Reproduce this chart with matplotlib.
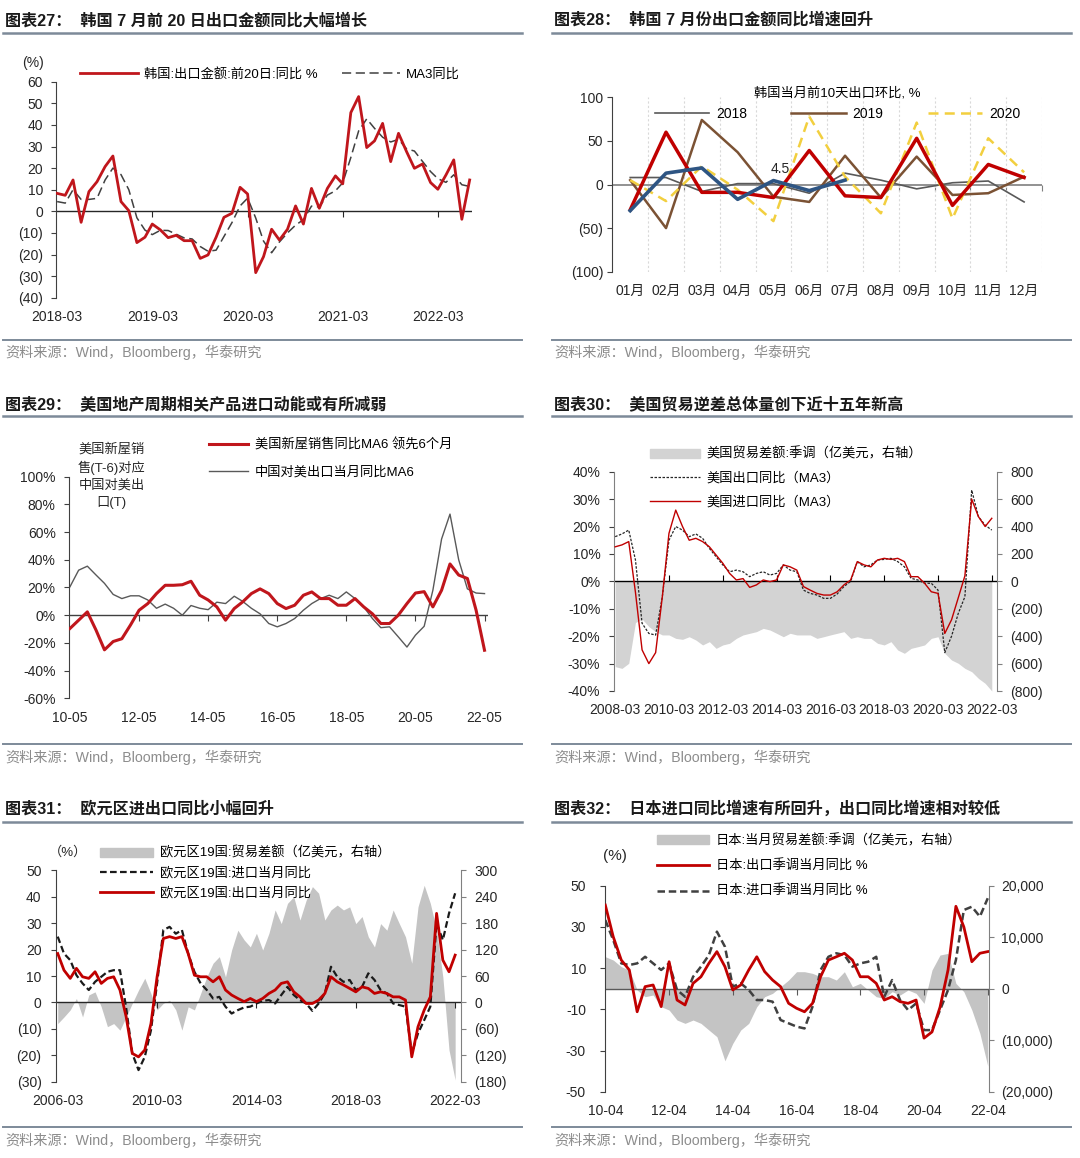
import numpy as np
import pandas as pd
import matplotlib
matplotlib.use("Agg")
import matplotlib.pyplot as plt
import matplotlib.dates as mdates
from matplotlib.lines import Line2D
from matplotlib.patches import Patch
from matplotlib.ticker import FuncFormatter

plt.rcParams['font.family'] = ['Liberation Sans', 'Noto Sans CJK SC']
plt.rcParams['axes.unicode_minus'] = False

# ---------------- data ----------------
# 图表27 韩国出口（月度 2018-03 .. 2022-07）
kr_dates = pd.date_range('2018-03-01', periods=53, freq='MS')
kr_exp = [8.3, 7.4, 14.5, -5.1, 9.1, 13.7, 20.7, 25.6, 4.5, 0.3,
          -14.5, -12.0, -5.9, -8.6, -12.2, -11.1, -13.6, -13.6, -21.8, -20.2, -12.0, -2.8,
          -0.9, 11.1, 8.0, -28.4, -21.0, -8.3, -13.3, -8.3, 2.5, -5.9, 10.6, 1.4,
          10.6, 16.4, 12.7, 45.7, 53.1, 29.5, 32.6, 40.7, 23.0, 36.1, 27.6, 19.9,
          21.9, 13.3, 10.2, 16.8, 23.8, -3.7, 14.5]
kr_ma3 = [4.5, 3.8, 10.0, 5.5, 5.5, 6.0, 14.5, 20.0, 17.0, 10.0,
          -3.0, -8.7, -10.8, -8.8, -8.9, -10.6, -12.3, -12.8, -16.3, -18.5, -18.0, -11.7,
          -5.2, 2.5, 6.1, -3.1, -13.8, -19.2, -14.2, -10.0, -6.4, -3.9, 2.4, 2.0,
          7.5, 9.5, 13.2, 24.9, 37.2, 42.8, 38.4, 34.3, 32.1, 33.3, 28.9, 27.9,
          23.1, 18.4, 15.1, 13.4, 16.9, 12.3, 11.5]

# 图表28 韩国当月前10天出口环比
months_cn = ['01月', '02月', '03月', '04月', '05月', '06月',
             '07月', '08月', '09月', '10月', '11月', '12月']
kr10_2018 = [8, 8, -8, 1, 1, -10, 13, 5, -5, 2, 4, -20]
kr10_2019 = [5, -50, 74, 37, -14, -20, 33, -15, 32, -12, -10, 9]
kr10_2020 = [5, -19, 21, -6, -42, 78, 9, -33, 71, -39, 53, 14]
kr10_2021 = [-29, 60, -9, -9, -15, 39, -13, -15, 53, -24, 23, 8]
kr10_2022 = [-30, 13, 19, -17, 4.5, -7, 5]

# 图表29 美国新屋销售 vs 中国对美出口（季度采样 2010-05 .. 2022-05）
us29_dates = pd.date_range('2010-05-01', periods=49, freq='3MS')
us_house = [-9.6, -3.6, 2.4, -10.8, -25.0, -19.0, -17.0, -7.0, 3.6, 8.4,
            15.6, 21.6, 21.6, 22.0, 24.5, 14.4, 11.0, 6.0, -3.6, 4.8,
            9.6, 15.6, 19.0, 15.6, 8.4, 4.8, 7.2, 14.4, 16.8, 12.0,
            12.0, 7.2, 7.2, 12.0, 6.0, 1.0, -6.0, -6.0, 0.0, 8.4,
            16.0, 17.0, 6.0, 18.0, 37.0, 29.0, 26.5, 3.6, -25.3]
cn_to_us = [20.5, 32.5, 35.4, 29.0, 23.0, 15.0, 12.0, 14.0, 14.0, 11.0,
            5.0, 8.0, 5.0, 0.0, 7.0, 5.0, 4.0, 9.4, 8.4, 13.7,
            10.0, 5.0, 1.0, -6.0, -8.4, -6.0, -2.4, 3.6, 8.4, 12.0,
            14.4, 12.0, 16.8, 12.0, 6.0, -2.4, -9.0, -8.4, -15.6, -23.0,
            -14.4, -8.0, 18.0, 55.0, 73.0, 40.0, 19.0, 16.0, 15.6]

# 图表30 美国贸易（季度采样 2008-03 .. 2022-03）
us30_dates = pd.date_range('2008-03-01', periods=57, freq='3MS')
us_balance = [-622, -635, -598, -300, -275, -330, -367, -391, -391, -416,
              -423, -404, -428, -464, -440, -489, -464, -452, -416, -391,
              -379, -367, -343, -355, -379, -404, -379, -391, -391, -391,
              -416, -404, -391, -379, -367, -416, -404, -416, -416, -452,
              -464, -440, -501, -525, -489, -477, -464, -416, -404, -525,
              -574, -598, -635, -659, -708, -744, -800]
us_export = [16.3, 17.3, 18.7, 7.8, -15.3, -19.0, -19.6, -5.6, 15.0, 20.0,
             18.7, 16.3, 17.3, 15.7, 12.0, 9.0, 6.0, 3.5, 4.1, 3.5,
             1.7, 2.9, 3.5, 2.3, 2.9, 6.0, 4.1, 3.5, -3.2, -4.4,
             -5.0, -6.2, -6.2, -4.6, -1.9, 0.0, 7.2, 5.3, 6.0, 7.8,
             8.0, 8.4, 7.2, 5.3, 1.1, 0.5, -0.7, -0.7, -3.2, -26.0,
             -20.0, -11.7, -5.6, 33.3, 23.6, 20.5, 18.7]
us_import = [12.6, 13.3, 14.5, -4.0, -25.0, -30.0, -26.0, -5.6, 17.5, 26.0,
             20.0, 15.0, 15.7, 14.5, 12.6, 9.6, 6.6, 2.9, 0.5, 1.0,
             -2.2, -1.3, 0.5, -0.1, 0.5, 6.0, 5.3, 4.1, -1.9, -3.2,
             -4.4, -5.0, -5.0, -3.8, -1.3, 0.5, 7.2, 6.0, 5.3, 7.8,
             8.4, 8.0, 8.4, 7.2, 1.7, 1.7, -0.7, -3.8, -4.4, -19.0,
             -14.0, -6.0, 2.0, 30.0, 23.6, 20.0, 23.0]

# 图表31 欧元区（季度采样 2006-03 .. 2022-03）
ez_dates = pd.date_range('2006-03-01', periods=65, freq='3MS')
ez_balance = [-48, -33, -17, 9, -33, 17, 24, -10, -55, -48,
              -63, -33, -2, 28, 55, 20, -17, -2, 5, -17,
              -63, -10, -17, 20, 58, 89, 104, 58, 119, 164,
              142, 126, 157, 119, 157, 210, 179, 225, 240, 187,
              232, 263, 248, 187, 210, 221, 210, 217, 179, 195,
              149, 126, 179, 164, 210, 179, 149, 89, 217, 266,
              225, 164, 58, -108, -176]
ez_import = [24.9, 18.5, 16.0, 10.3, 7.2, 4.7, 7.8, 9.7, 11.6, 12.2,
             12.2, -2.0, -19.3, -25.6, -20.6, -10.5, 7.2, 27.4, 28.6, 26.0,
             27.4, 18.5, 11.6, 7.2, 4.7, 1.5, 2.1, -1.6, -4.2, -2.9,
             -1.9, -1.6, -0.4, 0.6, 0.9, -0.4, 2.8, 5.9, 2.8, 0.9,
             -0.4, -3.2, -0.4, 3.4, 13.5, 9.7, 7.8, 8.5, 4.7, 5.9,
             11.0, 8.5, 4.7, 3.4, -0.4, -1.0, -1.6, -19.3, -11.7, -6.7,
             -1.6, 30.0, 23.6, 33.7, 41.3]
ez_export = [18.5, 12.2, 9.1, 12.9, 9.7, 9.1, 11.6, 7.2, 9.1, 9.7,
             4.7, -5.4, -19.3, -20.6, -18.0, -8.0, 9.7, 24.2, 24.9, 24.2,
             24.9, 18.5, 10.3, 9.7, 9.7, 7.8, 9.7, 4.7, 2.8, 1.5,
             0.3, 1.5, 0.3, 1.5, 3.4, 4.7, 7.2, 7.8, 4.0, 2.1,
             -0.4, -0.4, 0.9, 3.4, 9.7, 7.8, 6.6, 5.3, 4.0, 5.9,
             5.3, 3.4, 4.0, 3.4, 2.1, 2.1, 0.9, -20.6, -9.2, -2.9,
             2.1, 33.7, 16.0, 11.6, 17.9]

# 图表32 日本（季度采样 2010-04 .. 2022-04）
jp_dates = pd.date_range('2010-04-01', periods=49, freq='3MS')
jp_balance = [6214, 5566, 4272, 3625, -259, -1553, -1230, -3495, -4142, -6084,
              -6731, -6084, -6731, -8026, -9320, -14000, -10615, -8026, -6731, -3495,
              -1553, -906, 388, 1683, 3301, 3301, 2977, 2330, 2330, 1683,
              3301, 388, 1036, -259, -1553, -1877, -583, -1230, -259, -906,
              -2848, 3625, 6537, 6861, 1036, -583, -4142, -8673, -15000]
jp_export = [40.6, 25.2, 13.9, 9.1, -11.2, 1.0, 1.8, -8.7, 13.1, -5.5,
             -7.9, 2.6, 5.8, 12.3, 18.0, 10.7, -0.6, 1.8, 9.1, 15.5,
             8.3, 4.2, 1.0, -7.1, -9.5, -11.2, -7.1, 5.8, 13.9, 15.5,
             17.2, 13.9, 5.8, 5.8, 2.6, -5.5, -3.9, -6.3, -7.1, -5.5,
             -24.0, -21.0, -9.0, 9.1, 40.0, 30.0, 13.1, 17.2, 18.0]
jp_import = [33.3, 23.6, 12.3, 11.5, 12.3, 15.5, 12.3, 9.1, 12.3, -0.6,
             -3.9, 5.8, 10.7, 16.3, 27.7, 20.4, 1.0, 2.6, -0.6, -5.5,
             -5.5, -6.3, -15.2, -16.8, -18.4, -19.3, -8.7, 9.1, 15.5, 17.2,
             16.3, 10.7, 12.3, 13.1, 15.5, -3.9, 4.2, -5.5, -10.4, -7.1,
             -20.1, -20.1, -10.4, -0.6, 13.9, 38.2, 39.8, 35.0, 43.9]

titles = ['图表27：  韩国 7 月前 20 日出口金额同比大幅增长',
          '图表28：  韩国 7 月份出口金额同比增速回升',
          '图表29：  美国地产周期相关产品进口动能或有所减弱',
          '图表30：  美国贸易逆差总体量创下近十五年新高',
          '图表31：  欧元区进出口同比小幅回升',
          '图表32：  日本进口同比增速有所回升，出口同比增速相对较低']
source = '资料来源：Wind，Bloomberg，华泰研究'

# ---------------- style ----------------
W, H = 1080, 1158
RED = '#c0161c'
AXC = '#404040'
TXT = '#262626'
FS = 10
LFS = 9.5
RULE = '#7d8a99'

fig = plt.figure(figsize=(W / 100, H / 100), dpi=100)


def box(l, t, r, b):
    return fig.add_axes([l / W, 1 - b / H, (r - l) / W, (b - t) / H])


def num(s):
    return mdates.date2num(pd.Timestamp(s))


def paren(v, pos=None):
    return f'({abs(v):.0f})' if v < 0 else f'{v:.0f}'


def paren_comma(v, pos=None):
    return f'({abs(v):,.0f})' if v < 0 else f'{v:,.0f}'


def style(ax, pad=5):
    for s in ['top', 'right', 'bottom']:
        ax.spines[s].set_visible(False)
    ax.spines['left'].set_color(AXC)
    ax.spines['left'].set_linewidth(0.8)
    ax.tick_params(axis='y', direction='out', length=3.5, width=0.8, color=AXC,
                   labelsize=FS, labelcolor=TXT, pad=pad)
    ax.tick_params(axis='x', length=0, labelsize=FS, labelcolor=TXT, pad=9)
    ax.patch.set_visible(False)


def right_axis(ax, pad=6):
    ax2 = ax.twinx()
    for s in ['top', 'left', 'bottom']:
        ax2.spines[s].set_visible(False)
    ax2.spines['right'].set_color('#808080')
    ax2.tick_params(axis='y', direction='out', length=3.5, width=0.8, color='#808080',
                    labelsize=FS, labelcolor=TXT, pad=pad)
    ax.set_zorder(ax2.get_zorder() + 1)
    return ax2


def zero_line(ax, ticks, color='black', lw=1.0, marker=3):
    ax.axhline(0, color=color, lw=lw, zorder=1)
    ax.plot(ticks, np.zeros(len(ticks)), ls='none', marker=marker, ms=4,
            mew=0.8, color=color, clip_on=False, zorder=1)


def date_ticks(ax, labels, fmt):
    pos = [num(s) for s in labels]
    ax.set_xticks(pos)
    ax.set_xticklabels([pd.Timestamp(s).strftime(fmt) for s in labels])
    return pos


def legend(ax, handles, labels, x, y, loc='center left', **kw):
    opts = dict(frameon=False, borderpad=0, borderaxespad=0, fontsize=LFS,
                handletextpad=0.5)
    opts.update(kw)
    return ax.legend(handles, labels, loc=loc, bbox_to_anchor=(x / W, 1 - y / H),
                     bbox_transform=fig.transFigure, **opts)


def frame(x0, x1, ytitle, yrule, ysrc_rule, ysrc, title):
    fig.text((x0 + 2) / W, 1 - ytitle / H, title, fontsize=11.6, fontweight='bold',
             va='center', ha='left', color='#1a1a1a')
    fig.add_artist(Line2D([x0 / W, x1 / W], [1 - yrule / H] * 2, color=RULE, lw=1.8))
    fig.add_artist(Line2D([x0 / W, x1 / W], [1 - ysrc_rule / H] * 2, color=RULE, lw=1.4))
    fig.text((x0 + 2) / W, 1 - ysrc / H, source, fontsize=10.2, color='#8c8c8c',
             va='center', ha='left')


# ---------------- frames ----------------
frame(3, 522, 20, 33, 340, 352, titles[0])
frame(552, 1071, 20, 33, 340, 352, titles[1])
frame(3, 522, 404, 416, 744, 757, titles[2])
frame(552, 1071, 404, 416, 744, 757, titles[3])
frame(3, 522, 809, 822, 1127, 1140, titles[4])
frame(552, 1071, 809, 822, 1127, 1140, titles[5])

# ---------------- 图表27 ----------------
ax = box(56.1, 81.7, 472, 297.7)
style(ax, pad=6)
x = mdates.date2num(kr_dates)
ax.set_xlim(num('2018-02-25'), num('2022-07-10'))
ax.set_ylim(-40, 60)
ax.set_yticks(np.arange(-40, 61, 10))
ax.yaxis.set_major_formatter(FuncFormatter(paren))
tk = date_ticks(ax, ['2018-03-01', '2019-03-01', '2020-03-01', '2021-03-01', '2022-03-01'], '%Y-%m')
zero_line(ax, tk[1:], color='#262626', lw=1.0)
l1, = ax.plot(x, kr_exp, color=RED, lw=2.0, zorder=3)
l2, = ax.plot(x, kr_ma3, color='#404040', lw=1.1, dashes=(6, 3), zorder=2)
legend(ax, [l1, l2], ['韩国:出口金额:前20日:同比 %', 'MA3同比'], 79.5, 74, ncol=2,
       handlelength=4.4, columnspacing=1.8)
fig.text(32.7 / W, 1 - 63.3 / H, '(%)', fontsize=FS, color=TXT, ha='center', va='center')

# ---------------- 图表28 ----------------
ax = box(612.3, 97.3, 1042, 271.7)
style(ax, pad=3)
cx = np.arange(len(months_cn))
ax.set_xlim(-0.5, 11.5)
ax.set_ylim(-100, 100)
ax.set_yticks([-100, -50, 0, 50, 100])
ax.yaxis.set_major_formatter(FuncFormatter(paren))
ax.set_xticks(cx)
ax.set_xticklabels(months_cn)
ax.set_xticks(np.arange(0.5, 12, 1), minor=True)
ax.tick_params(axis='x', which='minor', length=0)
ax.grid(axis='x', which='minor', color='#d9d9d9', lw=0.8, ls=(0, (2, 2)))
zero_line(ax, np.arange(0.5, 12, 1), color='#7f7f7f', lw=1.2)
h18, = ax.plot(cx, kr10_2018, color='#595959', lw=1.2, zorder=3)
h19, = ax.plot(cx, kr10_2019, color='#7b5234', lw=1.8, zorder=3)
h20, = ax.plot(cx, kr10_2020, color='#f2cf3f', lw=1.8, dashes=(4, 2.5), zorder=3)
ax.plot(cx, kr10_2021, color='#c00000', lw=2.5, zorder=4)
cx22 = np.arange(len(kr10_2022))
ax.plot(cx22, kr10_2022, color='#2e5583', lw=2.6, zorder=5)
ax.annotate(f'{kr10_2022[4]}', xy=(cx22[4], kr10_2022[4]), xytext=(5, 8),
            textcoords='offset points', ha='center', va='center', fontsize=FS, color=TXT)
legend(ax, [h18, h19, h20], ['2018', '2019', '2020'], 837.5, 104, loc='center', ncol=3,
       title='韩国当月前10天出口环比, %', title_fontsize=LFS, handlelength=3.9,
       columnspacing=3.2, labelspacing=0.5, fontsize=FS)

# ---------------- 图表29 ----------------
ax = box(68.9, 476.7, 488.3, 698.3)
style(ax, pad=6)
x = mdates.date2num(us29_dates)
ax.set_xlim(num('2010-04-20'), num('2022-06-10'))
ax.set_ylim(-60, 100)
ax.set_yticks(np.arange(-60, 101, 20))
ax.yaxis.set_major_formatter(FuncFormatter(lambda v, p: f'{v:.0f}%'))
tk = date_ticks(ax, ['2010-05-01', '2012-05-01', '2014-05-01', '2016-05-01',
                     '2018-05-01', '2020-05-01', '2022-05-01'], '%y-%m')
zero_line(ax, tk[1:], color='#404040', lw=1.0)
g1, = ax.plot(x, cn_to_us, color='#595959', lw=1.0, zorder=2)
r1, = ax.plot(x, us_house, color=RED, lw=2.2, zorder=3)
legend(ax, [r1, g1], ['美国新屋销售同比MA6 领先6个月', '中国对美出口当月同比MA6'], 208.7, 459,
       handlelength=3.0, labelspacing=1.1)
fig.text(111.6 / W, 1 - 476 / H, '美国新屋销\n售(T-6)对应\n中国对美出\n口(T)', fontsize=LFS,
         color=TXT, ha='center', va='center', multialignment='center', linespacing=1.45)

# ---------------- 图表30 ----------------
ax = box(613.5, 471.7, 997.3, 691)
ax2 = right_axis(ax, pad=6)
style(ax, pad=6)
ax.spines['left'].set_color('#808080')
x = mdates.date2num(us30_dates)
ax.set_xlim(num('2008-02-07'), num('2022-05-15'))
ax.set_ylim(-40, 40)
ax.set_yticks(np.arange(-40, 41, 10))
ax.yaxis.set_major_formatter(FuncFormatter(lambda v, p: f'{v:.0f}%'))
ax2.set_ylim(-800, 800)
ax2.set_yticks(np.arange(-800, 801, 200))
ax2.yaxis.set_major_formatter(FuncFormatter(paren))
ax2.fill_between(x, 0, us_balance, color='#d3d3d3', lw=0)
tk = date_ticks(ax, ['2008-03-01', '2010-03-01', '2012-03-01', '2014-03-01', '2016-03-01',
                     '2018-03-01', '2020-03-01', '2022-03-01'], '%Y-%m')
zero_line(ax, tk[1:], color='black', lw=1.0, marker=2)
e1, = ax.plot(x, us_export, color='#262626', lw=0.9, dashes=(2, 1.2), zorder=3)
i1, = ax.plot(x, us_import, color='#c00000', lw=1.0, zorder=4)
legend(ax, [Patch(color='#d3d3d3'), e1, i1],
       ['美国贸易差额:季调（亿美元，右轴）', '美国出口同比（MA3）', '美国进口同比（MA3）'],
       649.5, 478, handlelength=3.8, labelspacing=0.85)

# ---------------- 图表31 ----------------
ax = box(56.1, 870.3, 461.4, 1081.7)
ax2 = right_axis(ax, pad=6)
style(ax, pad=7)
x = mdates.date2num(ez_dates)
ax.set_xlim(num('2006-02-05'), num('2022-06-01'))
ax.set_ylim(-30, 50)
ax.set_yticks(np.arange(-30, 51, 10))
ax.yaxis.set_major_formatter(FuncFormatter(paren))
ax2.set_ylim(-180, 300)
ax2.set_yticks(np.arange(-180, 301, 60))
ax2.yaxis.set_major_formatter(FuncFormatter(paren))
ax2.fill_between(x, 0, ez_balance, color='#c4c4c4', lw=0)
tk = date_ticks(ax, ['2006-03-01', '2010-03-01', '2014-03-01', '2018-03-01', '2022-03-01'], '%Y-%m')
zero_line(ax, tk[1:], color='#262626', lw=1.0)
d1, = ax.plot(x, ez_import, color='#1a1a1a', lw=1.6, dashes=(3, 1.5), zorder=3)
s1, = ax.plot(x, ez_export, color='#c00000', lw=2.0, zorder=4)
legend(ax, [Patch(color='#c4c4c4'), d1, s1],
       ['欧元区19国:贸易差额（亿美元，右轴）', '欧元区19国:进口当月同比', '欧元区19国:出口当月同比'],
       100.2, 873, handlelength=4.0, labelspacing=0.55)
fig.text(68.2 / W, 1 - 852 / H, '（%）', fontsize=LFS, color=TXT, ha='center', va='center')

# ---------------- 图表32 ----------------
ax = box(604.7, 885.7, 989.4, 1091.7)
ax2 = right_axis(ax, pad=5)
style(ax, pad=10)
x = mdates.date2num(jp_dates)
ax.set_xlim(num('2010-03-25'), num('2022-04-20'))
ax.set_ylim(-50, 50)
ax.set_yticks(np.arange(-50, 51, 20))
ax.yaxis.set_major_formatter(FuncFormatter(lambda v, p: f'{v:.0f}'))
ax2.set_ylim(-20000, 20000)
ax2.set_yticks(np.arange(-20000, 20001, 10000))
ax2.yaxis.set_major_formatter(FuncFormatter(paren_comma))
ax2.fill_between(x, 0, jp_balance, color='#c4c4c4', lw=0)
tk = date_ticks(ax, ['2010-04-01', '2012-04-01', '2014-04-01', '2016-04-01',
                     '2018-04-01', '2020-04-01', '2022-04-01'], '%y-%m')
zero_line(ax, tk[1:], color='#595959', lw=1.0)
d2, = ax.plot(x, jp_import, color='#404040', lw=1.8, dashes=(3, 1.5), zorder=3)
s2, = ax.plot(x, jp_export, color='#c00000', lw=2.0, zorder=4)
legend(ax, [Patch(color='#c4c4c4'), s2, d2],
       ['日本:当月贸易差额:季调（亿美元，右轴）', '日本:出口季调当月同比 %', '日本:进口季调当月同比 %'],
       656.7, 866, handlelength=4.0, labelspacing=0.95)
fig.text(615.4 / W, 1 - 856 / H, '(%)', fontsize=11, color=TXT, ha='center', va='center')

fig.savefig('out.png', dpi=100)
